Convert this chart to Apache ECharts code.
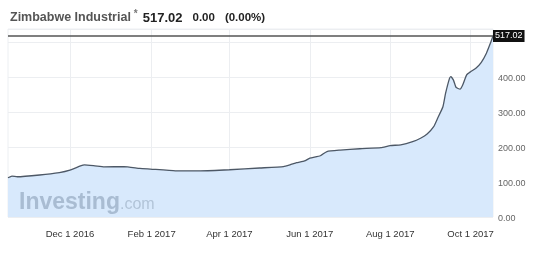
<!DOCTYPE html>
<html><head><meta charset="utf-8">
<script src="https://cdn.jsdelivr.net/npm/echarts@6/dist/echarts.min.js"></script>
<style>html,body{margin:0;padding:0;background:#fff}#c{width:540px;height:253px}</style>
</head><body><div id="c"></div>
<script>
const dates = ['2016-10-15','2016-10-18','2016-10-22','2016-11-08','2016-11-23','2016-12-01','2016-12-09','2016-12-12','2016-12-20','2016-12-27','2017-01-11','2017-01-23','2017-01-31','2017-02-19','2017-03-10','2017-04-01','2017-04-24','2017-05-12','2017-05-17','2017-05-22','2017-05-28','2017-06-01','2017-06-09','2017-06-14','2017-06-24','2017-07-09','2017-07-25','2017-08-01','2017-08-09','2017-08-18','2017-08-24','2017-08-29','2017-09-03','2017-09-06','2017-09-10','2017-09-12','2017-09-15','2017-09-16','2017-09-18','2017-09-20','2017-09-23','2017-09-25','2017-09-28','2017-10-01','2017-10-05','2017-10-09','2017-10-13','2017-10-16','2017-10-18'];
const values = [112,117,115,120,127,134,146,149,146,143,144,139,137,132,132,135,140,144,149,155,160,168,175,187,191,195,198,204,206,215,225,237,258,282,315,353,396,401,391,370,365,377,406,415,425,441,468,496,517.02];
const tickDates = ['2016-12-01','2017-02-01','2017-04-01','2017-06-01','2017-08-01','2017-10-01'];
const yTicks = [0,100,200,300,400,500];
const lastValue = 517.02;
const months = ['Jan','Feb','Mar','Apr','May','Jun','Jul','Aug','Sep','Oct','Nov','Dec'];
const ts = s => { const [y,m,d] = s.split('-').map(Number); return Date.UTC(y,m-1,d); };
const chart = echarts.init(document.getElementById('c'), null, {renderer:'canvas'});
chart.setOption({
  animation:false,
  title:{
    left:5, top:4,
    text:'{a|Zimbabwe Industrial}{s|*} {b|517.02}  {c|0.00}  {c|(0.00%)}',
    textStyle:{rich:{
      a:{fontFamily:'Liberation Sans, Arial',fontSize:12.5,color:'#555'},
      s:{fontFamily:'Liberation Sans, Arial',fontSize:10,color:'#777',verticalAlign:'top',padding:[0,0,5,3]},
      b:{fontFamily:'Liberation Sans, Arial',fontSize:13,fontWeight:'bold',color:'#222'},
      c:{fontFamily:'Liberation Sans, Arial',fontSize:11.5,fontWeight:'bold',color:'#222'}
    }}
  },
  graphic:[{
    type:'text', left:19, top:191, z:100,
    style:{
      text:'{i|Investing}{d|.com}',
      rich:{
        i:{fontFamily:'Liberation Sans, Arial',fontSize:23,fontWeight:'bold',fill:'#a9bcd2'},
        d:{fontFamily:'Liberation Sans, Arial',fontSize:16,fill:'#b2c4d8',padding:[5,0,0,0]}
      }
    }
  }],
  grid:{left:8,right:47,top:29,bottom:36,show:true,borderColor:'#eceff2',borderWidth:1},
  xAxis:{
    type:'value',
    min:ts(dates[0]), max:ts(dates[dates.length-1]),
    axisLine:{show:false},
    axisTick:{show:false, customValues:tickDates.map(ts)},
    splitLine:{show:true,lineStyle:{color:'#eceef1',width:1}},
    axisLabel:{
      customValues:tickDates.map(ts),
      fontFamily:'Liberation Sans, Arial',fontSize:9.5,color:'#333',margin:12,
      formatter:v=>{const d=new Date(v);return months[d.getUTCMonth()]+' '+d.getUTCDate()+' '+d.getUTCFullYear();}
    }
  },
  yAxis:{
    type:'value', position:'right', min:0, max:537, interval:100,
    axisLine:{show:false}, axisTick:{show:false},
    splitLine:{lineStyle:{color:'#eceef1',width:1}},
    axisLabel:{
      fontFamily:'Liberation Sans, Arial',fontSize:9,color:'#666',margin:5,
      verticalAlign:'top',padding:[-3,0,0,0],
      formatter:v=> yTicks.includes(v) && v<500 ? v.toFixed(2) : ''
    }
  },
  series:[{
    type:'line',
    data:dates.map((d,i)=>[ts(d),values[i]]),
    symbol:'none', smooth:0.15,
    lineStyle:{color:'#4d5866',width:1.3},
    areaStyle:{color:'#d8e9fc',opacity:1},
    markLine:{
      silent:true, symbol:'none',
      lineStyle:{color:'#555',width:1.5,type:'solid'},
      label:{
        position:'end', formatter:lastValue.toFixed(2),
        backgroundColor:'#111', color:'#fff', fontFamily:'Liberation Sans, Arial',
        fontSize:9, padding:[2,2,1,2], distance:0
      },
      data:[{yAxis:lastValue}]
    }
  }]
});
</script></body></html>
